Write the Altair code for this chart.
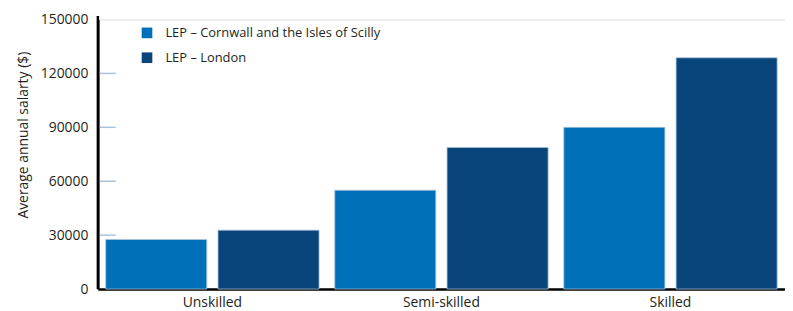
import altair as alt
import pandas as pd

categories = ["Unskilled", "Semi-skilled", "Skilled"]
series = ["LEP – Cornwall and the Isles of Scilly", "LEP – London"]
cornwall = [27600, 55000, 90000]
london = [32800, 78800, 128700]
tick_values = [30000, 60000, 90000, 120000]
colors = ["#0071b9", "#09457b"]

rows = []
for i, c in enumerate(categories):
    rows.append({"category": c, "series": series[0], "salary": cornwall[i]})
    rows.append({"category": c, "series": series[1], "salary": london[i]})
df = pd.DataFrame(rows)
ticks_df = pd.DataFrame({"v": tick_values})
axis_df = pd.DataFrame({"lo": [0], "hi": [152000]})

FONT = "Open Sans"

yscale = alt.Scale(domain=[0, 150000], nice=False)
yaxis = alt.Axis(
    title="Average annual salarty ($)",
    values=[0, 30000, 60000, 90000, 120000, 150000],
    format="d",
    ticks=False,
    grid=False,
    labelFont=FONT,
    labelFontSize=14,
    labelColor="#231f20",
    labelPadding=10,
    domainColor="#000000",
    domainWidth=2.5,
    titleFont=FONT,
    titleFontSize=14,
    titleFontWeight="normal",
    titleColor="#231f20",
    titleX=-75,
    titleY=116,
    titleAlign="center",
    titleBaseline="middle",
    titleAngle=270,
)

bars = alt.Chart(df).mark_bar(stroke="#a9c4de", strokeWidth=0.8).encode(
    x=alt.X(
        "category:N",
        sort=categories,
        scale=alt.Scale(paddingInner=0, paddingOuter=0),
        axis=alt.Axis(
            title=None,
            labelAngle=0,
            labelFont=FONT,
            labelFontSize=14,
            labelColor="#231f20",
            labelPadding=7,
            ticks=False,
            domainColor="#000000",
            domainWidth=2.5,
        ),
    ),
    xOffset=alt.XOffset(
        "series:N",
        sort=series,
        scale=alt.Scale(paddingInner=0.1, paddingOuter=0.07),
    ),
    y=alt.Y("salary:Q", scale=yscale, axis=yaxis),
    color=alt.Color(
        "series:N",
        sort=series,
        scale=alt.Scale(domain=series, range=colors),
        legend=alt.Legend(
            title=None,
            orient="none",
            legendX=43,
            legendY=7,
            symbolType="square",
            symbolSize=115,
            symbolStrokeWidth=0,
            labelFont=FONT,
            labelFontSize=13,
            labelColor="#231f20",
            labelOffset=12,
            labelLimit=0,
            rowPadding=11,
        ),
    ),
)

ticks = alt.Chart(ticks_df).mark_rule(color="#a9c2da", strokeWidth=1.5).encode(
    y=alt.Y("v:Q", scale=yscale, axis=yaxis),
    x=alt.value(2),
    x2=alt.value(18),
)

yline = alt.Chart(axis_df).mark_rule(color="#000000", strokeWidth=2.5).encode(
    y=alt.Y("lo:Q", scale=yscale, axis=yaxis),
    y2="hi:Q",
    x=alt.value(0),
)

chart = alt.layer(bars, ticks, yline).properties(
    width=692,
    height=271.5,
    autosize=alt.AutoSizeParams(type="none"),
    padding={"left": 90.5, "top": 10.5, "right": 0, "bottom": 20},
).configure_view(stroke=None).configure(background="white")

chart.save("out.html", embed_options={"renderer": "svg", "actions": False})
